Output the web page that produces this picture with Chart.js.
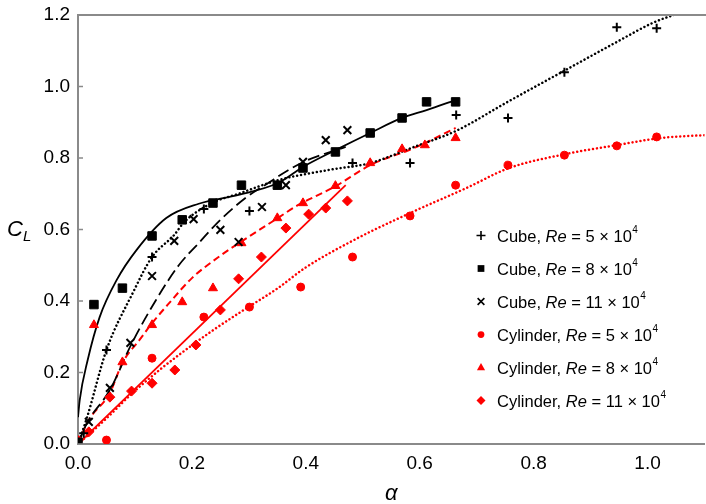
<!DOCTYPE html>
<html>
<head>
<meta charset="utf-8">
<script src="https://cdn.jsdelivr.net/npm/chart.js"></script>
<style>
  html, body { margin: 0; padding: 0; background: #fff; overflow: hidden; }
  #wrap { width: 712px; height: 504px; }
</style>
</head>
<body>
<div id="wrap"><canvas id="grafico" width="712" height="504"></canvas></div>
<script>
/* Ejes */
const xTicks = [0, 0.2, 0.4, 0.6, 0.8, 1.0];
const xTickLabels = ['0.0', '0.2', '0.4', '0.6', '0.8', '1.0'];
const yTicks = [0, 0.2, 0.4, 0.6, 0.8, 1.0, 1.2];
const yTickLabels = ['0.0', '0.2', '0.4', '0.6', '0.8', '1.0', '1.2'];

/* Leyenda */
const seriesNames = ['Cube', 'Cube', 'Cube', 'Cylinder', 'Cylinder', 'Cylinder'];
const seriesRe = ['5', '8', '11', '5', '8', '11'];

/* Medidas (puntos) */
const cube5X = [0.01, 0.05, 0.13, 0.221, 0.301, 0.482, 0.583, 0.664, 0.755, 0.854, 0.946, 1.016];
const cube5Y = [0.03, 0.263, 0.523, 0.657, 0.652, 0.786, 0.786, 0.92, 0.912, 1.04, 1.166, 1.163];

const cube8X = [0, 0.028, 0.078, 0.13, 0.183, 0.237, 0.287, 0.35, 0.395, 0.452, 0.513, 0.569, 0.612, 0.663];
const cube8Y = [0.005, 0.39, 0.436, 0.582, 0.627, 0.674, 0.724, 0.724, 0.772, 0.817, 0.87, 0.912, 0.957, 0.957];

const cube11X = [0.019, 0.056, 0.092, 0.13, 0.169, 0.203, 0.25, 0.282, 0.323, 0.365, 0.395, 0.435, 0.473];
const cube11Y = [0.062, 0.157, 0.283, 0.47, 0.568, 0.629, 0.599, 0.565, 0.663, 0.724, 0.789, 0.85, 0.878];

const cyl5X = [0, 0.05, 0.13, 0.221, 0.301, 0.391, 0.482, 0.583, 0.663, 0.755, 0.854, 0.946, 1.016];
const cyl5Y = [0.01, 0.011, 0.24, 0.355, 0.383, 0.439, 0.523, 0.638, 0.724, 0.78, 0.808, 0.834, 0.859];

const cyl8X = [0, 0.028, 0.078, 0.13, 0.183, 0.237, 0.287, 0.35, 0.395, 0.452, 0.513, 0.569, 0.609, 0.663];
const cyl8Y = [0.005, 0.333, 0.229, 0.333, 0.397, 0.436, 0.562, 0.632, 0.674, 0.722, 0.786, 0.825, 0.836, 0.856];

const cyl11X = [0, 0.019, 0.056, 0.094, 0.13, 0.17, 0.207, 0.25, 0.282, 0.322, 0.365, 0.405, 0.435, 0.473];
const cyl11Y = [0.01, 0.034, 0.131, 0.148, 0.17, 0.207, 0.277, 0.375, 0.462, 0.523, 0.604, 0.643, 0.66, 0.68];

/* Curvas de ajuste */
const cube5FitX = [0, 0.016, 0.05, 0.096, 0.13, 0.169, 0.186, 0.235, 0.282, 0.351, 0.438, 0.513, 0.59, 0.664, 0.751, 0.856, 0.943, 1.012, 1.055];
const cube5FitY = [0, 0.075, 0.263, 0.422, 0.523, 0.585, 0.62, 0.674, 0.7, 0.738, 0.766, 0.786, 0.831, 0.876, 0.954, 1.046, 1.122, 1.18, 1.205];

const cube8FitX = [0, 0.003, 0.017, 0.038, 0.068, 0.103, 0.155, 0.212, 0.282, 0.351, 0.395, 0.452, 0.513, 0.569, 0.612, 0.663];
const cube8FitY = [0.075, 0.123, 0.235, 0.355, 0.459, 0.543, 0.632, 0.672, 0.697, 0.73, 0.775, 0.822, 0.87, 0.912, 0.934, 0.962];

const cube11FitX = [0, 0.016, 0.056, 0.094, 0.137, 0.177, 0.212, 0.25, 0.294, 0.334, 0.369, 0.403, 0.47];
const cube11FitY = [0, 0.059, 0.151, 0.28, 0.403, 0.5, 0.562, 0.627, 0.688, 0.73, 0.766, 0.794, 0.831];

const cyl5FitX = [0, 0.047, 0.096, 0.143, 0.177, 0.235, 0.294, 0.351, 0.398, 0.485, 0.583, 0.682, 0.757, 0.856, 0.946, 1.024, 1.1];
const cyl5FitY = [0, 0.067, 0.143, 0.207, 0.249, 0.316, 0.378, 0.436, 0.492, 0.571, 0.646, 0.716, 0.772, 0.811, 0.836, 0.856, 0.864];

const cyl8FitX = [0, 0.017, 0.056, 0.078, 0.108, 0.13, 0.16, 0.2, 0.252, 0.299, 0.346, 0.386, 0.45, 0.513, 0.59, 0.663];
const cyl8FitY = [0, 0.062, 0.143, 0.227, 0.291, 0.338, 0.394, 0.464, 0.529, 0.579, 0.627, 0.668, 0.719, 0.78, 0.828, 0.884];

const cyl11FitX = [0, 0.47];
const cyl11FitY = [0, 0.724];

const BLACK = '#000000';
const RED = '#ff0000';
const FONT = 'Liberation Sans, Arial, Helvetica, sans-serif';

const zip = (xs, ys) => xs.map((x, i) => ({ x: x, y: ys[i] }));

/* Series de puntos */
function puntos(xs, ys, style, radius, color, bw) {
  return {
    data: zip(xs, ys),
    showLine: false,
    pointStyle: style,
    pointRadius: radius,
    pointBorderWidth: bw,
    pointBorderColor: color,
    pointBackgroundColor: color
  };
}

/* Series de curvas */
function curva(xs, ys, color, width, dash, cap) {
  return {
    data: zip(xs, ys),
    showLine: true,
    pointRadius: 0,
    borderColor: color,
    borderWidth: width,
    borderDash: dash,
    borderCapStyle: cap || 'butt',
    cubicInterpolationMode: 'monotone',
    fill: false
  };
}

const markers = [
  { style: 'cross', color: BLACK },
  { style: 'rect', color: BLACK },
  { style: 'crossRot', color: BLACK },
  { style: 'circle', color: RED },
  { style: 'triangle', color: RED },
  { style: 'rectRot', color: RED }
];

const datasets = [
  puntos(cube5X, cube5Y, 'cross', 4.5, BLACK, 2),
  puntos(cube8X, cube8Y, 'rect', 6, BLACK, 1),
  puntos(cube11X, cube11Y, 'crossRot', 5.5, BLACK, 2),
  puntos(cyl5X, cyl5Y, 'circle', 4, RED, 1),
  puntos(cyl8X, cyl8Y, 'triangle', 5.2, RED, 1),
  puntos(cyl11X, cyl11Y, 'rectRot', 5, RED, 1),
  curva(cube5FitX, cube5FitY, BLACK, 2.5, [0.01, 4], 'round'),
  curva(cube8FitX, cube8FitY, BLACK, 1.8, []),
  curva(cube11FitX, cube11FitY, BLACK, 1.8, [12, 5]),
  curva(cyl5FitX, cyl5FitY, RED, 2.5, [0.01, 4], 'round'),
  curva(cyl8FitX, cyl8FitY, RED, 2, [7, 4]),
  curva(cyl11FitX, cyl11FitY, RED, 1.8, [])
];

/* Dibuja un marcador para la leyenda */
function drawMarker(ctx, style, x, y, r, color) {
  ctx.save();
  ctx.fillStyle = color;
  ctx.strokeStyle = color;
  ctx.lineWidth = 1.6;
  ctx.beginPath();
  if (style === 'cross') {
    ctx.moveTo(x - r, y); ctx.lineTo(x + r, y);
    ctx.moveTo(x, y - r); ctx.lineTo(x, y + r);
    ctx.stroke();
  } else if (style === 'crossRot') {
    const d = r * 0.75;
    ctx.moveTo(x - d, y - d); ctx.lineTo(x + d, y + d);
    ctx.moveTo(x + d, y - d); ctx.lineTo(x - d, y + d);
    ctx.stroke();
  } else if (style === 'rect') {
    ctx.rect(x - r * 0.75, y - r * 0.75, r * 1.5, r * 1.5);
    ctx.fill();
  } else if (style === 'circle') {
    ctx.arc(x, y, r * 0.75, 0, Math.PI * 2);
    ctx.fill();
  } else if (style === 'triangle') {
    ctx.moveTo(x, y - r);
    ctx.lineTo(x + r * 0.9, y + r * 0.6);
    ctx.lineTo(x - r * 0.9, y + r * 0.6);
    ctx.closePath();
    ctx.fill();
  } else if (style === 'rectRot') {
    ctx.moveTo(x, y - r); ctx.lineTo(x + r, y);
    ctx.lineTo(x, y + r); ctx.lineTo(x - r, y);
    ctx.closePath();
    ctx.fill();
  }
  ctx.restore();
}

/* Extras: borde superior, marcas internas, titulos y leyenda */
const extras = {
  id: 'extras',
  afterDraw(chart) {
    const ctx = chart.ctx;
    const area = chart.chartArea;
    const yScale = chart.scales.y;

    ctx.save();
    ctx.strokeStyle = '#8a8a8a';
    ctx.lineWidth = 2;
    ctx.beginPath();
    ctx.moveTo(area.left - 1, area.top);
    ctx.lineTo(area.right + 2, area.top);
    ctx.stroke();

    ctx.lineWidth = 1.5;
    yTicks.forEach((v) => {
      const py = yScale.getPixelForValue(v);
      ctx.beginPath();
      ctx.moveTo(area.left, py);
      ctx.lineTo(area.left + 5, py);
      ctx.stroke();
    });

    /* titulos de ejes */
    ctx.fillStyle = '#000';
    ctx.textBaseline = 'alphabetic';
    ctx.textAlign = 'left';
    ctx.font = 'italic 22px ' + FONT;
    ctx.fillText('C', 7, 236);
    ctx.font = 'italic 15px ' + FONT;
    ctx.fillText('L', 23, 241);
    ctx.textAlign = 'center';
    ctx.font = 'italic 22px ' + FONT;
    ctx.fillText('\u03b1', (area.left + area.right) / 2, 500);

    /* leyenda */
    ctx.textAlign = 'left';
    seriesNames.forEach((name, i) => {
      const rowY = 235.5 + i * 33;
      drawMarker(ctx, markers[i].style, 481, rowY, 4.5, markers[i].color);
      let tx = 497;
      const base = rowY + 6;
      const parts = [
        { t: name + ', ', f: '16.5px ' + FONT },
        { t: 'Re', f: 'italic 16.5px ' + FONT },
        { t: ' = ' + seriesRe[i] + ' \u00d7 10', f: '16.5px ' + FONT }
      ];
      parts.forEach((p) => {
        ctx.font = p.f;
        ctx.fillText(p.t, tx, base);
        tx += ctx.measureText(p.t).width;
      });
      ctx.font = '10px ' + FONT;
      ctx.fillText('4', tx + 0.5, base - 8.5);
    });
    ctx.restore();
  }
};

new Chart(document.getElementById('grafico').getContext('2d'), {
  type: 'scatter',
  data: { datasets: datasets },
  options: {
    responsive: false,
    animation: false,
    events: [],
    layout: { padding: { top: 15, right: 2, left: 0, bottom: 0 } },
    plugins: {
      legend: { display: false },
      tooltip: { enabled: false }
    },
    scales: {
      x: {
        type: 'linear',
        min: 0,
        max: 1.1,
        grid: { display: false, drawTicks: false },
        border: { display: true, color: '#8a8a8a', width: 2 },
        afterBuildTicks: (axis) => { axis.ticks = xTicks.map((v) => ({ value: v })); },
        afterFit: (axis) => {
          axis.height = 60;
          axis.paddingLeft = 0;
          axis.paddingRight = 0;
        },
        ticks: {
          padding: 8,
          color: '#000',
          font: { family: FONT, size: 19 },
          maxRotation: 0,
          callback: (v, i) => xTickLabels[i]
        }
      },
      y: {
        type: 'linear',
        min: 0,
        max: 1.2,
        grid: { display: false, drawTicks: false },
        border: { display: true, color: '#8a8a8a', width: 2 },
        afterBuildTicks: (axis) => { axis.ticks = yTicks.map((v) => ({ value: v })); },
        afterFit: (axis) => {
          axis.width = 78;
          axis.paddingTop = 0;
          axis.paddingBottom = 0;
        },
        ticks: {
          padding: 8,
          color: '#000',
          font: { family: FONT, size: 19 },
          callback: (v, i) => yTickLabels[i]
        }
      }
    }
  },
  plugins: [extras]
});
</script>
</body>
</html>
